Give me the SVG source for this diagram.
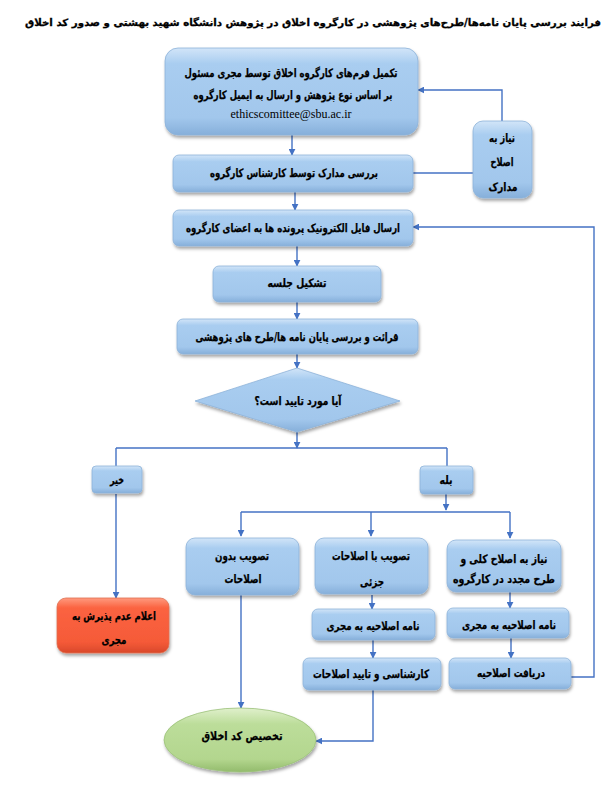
<svg xmlns="http://www.w3.org/2000/svg" width="614" height="806" viewBox="0 0 614 806">
<defs>
<linearGradient id="gb" x1="0" y1="0" x2="0" y2="1">
<stop offset="0" stop-color="#d2e5f8"/>
<stop offset="0.18" stop-color="#a9cdf0"/>
<stop offset="0.8" stop-color="#a2c7ec"/>
<stop offset="1" stop-color="#86afda"/>
</linearGradient>
<linearGradient id="gr" x1="0" y1="0" x2="0" y2="1">
<stop offset="0" stop-color="#ff9a7e"/>
<stop offset="0.18" stop-color="#fb6341"/>
<stop offset="0.8" stop-color="#f55a38"/>
<stop offset="1" stop-color="#d9482a"/>
</linearGradient>
<linearGradient id="gg" x1="0" y1="0" x2="0" y2="1">
<stop offset="0" stop-color="#e0f0cc"/>
<stop offset="0.25" stop-color="#bcdd9a"/>
<stop offset="0.8" stop-color="#b3d68e"/>
<stop offset="1" stop-color="#93bb6c"/>
</linearGradient>
<filter id="sh" x="-20%" y="-20%" width="140%" height="150%">
<feDropShadow dx="1" dy="2.5" stdDeviation="1.6" flood-color="#000" flood-opacity="0.35"/>
</filter>
<marker id="ar" viewBox="0 0 10 10" refX="9" refY="5" markerWidth="7" markerHeight="7" markerUnits="userSpaceOnUse" orient="auto">
<path d="M0,0 L10,5 L0,10 z" fill="#4472c4"/>
</marker>
</defs>
<style>
.b{fill:url(#gb);stroke:#8db2d9;stroke-width:0.8;filter:url(#sh)}
.r{fill:url(#gr);stroke:#e07050;stroke-width:0.8;filter:url(#sh)}
.g{fill:url(#gg);stroke:#9cc27a;stroke-width:0.8;filter:url(#sh)}
.t{font-family:"DejaVu Sans","Noto Sans",sans-serif;font-weight:bold;font-size:11.5px;fill:#000;stroke:#000;stroke-width:0.25;text-anchor:middle;direction:rtl}
.e{font-family:"Liberation Serif",serif;font-size:12px;fill:#000;text-anchor:middle}
.c{fill:none;stroke:#4472c4;stroke-width:1.4}
.ca{fill:none;stroke:#4472c4;stroke-width:1.4;marker-end:url(#ar)}
</style>
<text class="t" x="313" y="26" style="font-size:10px;stroke-width:0.3" textLength="576" lengthAdjust="spacingAndGlyphs">فرایند بررسی پایان نامه‌ها/طرح‌های پژوهشی در کارگروه اخلاق در پژوهش دانشگاه شهید بهشتی  و صدور کد اخلاق</text>

<g id="connectors">
<path class="ca" d="M292,135 V155"/>
<path class="ca" d="M502,121 V90 H418"/>
<path class="c" d="M413,173 H473"/>
<path class="ca" d="M295,192 V210"/>
<path class="ca" d="M297,246 V266"/>
<path class="ca" d="M297,302 V319"/>
<path class="ca" d="M297,354 V368"/>
<path class="ca" d="M297,432 V448"/>
<path class="c" d="M116,448 H447"/>
<path class="c" d="M116,448 V466"/>
<path class="c" d="M447,448 V466"/>
<path class="ca" d="M446,494 V510"/>
<path class="c" d="M241,512 H510"/>
<path class="ca" d="M241,512 V536"/>
<path class="ca" d="M371,512 V536"/>
<path class="ca" d="M510,512 V538"/>
<path class="ca" d="M372,595 V609"/>
<path class="ca" d="M510,592 V608"/>
<path class="ca" d="M373,640 V658"/>
<path class="ca" d="M511,638 V658"/>
<path class="ca" d="M571,677 H594 V227 H413"/>
<path class="ca" d="M116,494 V598"/>
<path class="ca" d="M241,595 V708"/>
<path class="ca" d="M373,690 V741 H316"/>
</g>

<g id="n1">
<rect class="b" x="165" y="48" width="253" height="87" rx="13"/>
<text class="t" x="291" y="77" textLength="213" lengthAdjust="spacingAndGlyphs">تکمیل فرم‌های کارگروه اخلاق توسط مجری مسئول</text>
<text class="t" x="293" y="99" textLength="199" lengthAdjust="spacingAndGlyphs">بر اساس نوع پژوهش و ارسال به ایمیل کارگروه</text>
<text class="e" x="291" y="118">ethicscomittee@sbu.ac.ir</text>
</g>
<g id="n2">
<rect class="b" x="173" y="155" width="240" height="37" rx="6"/>
<text class="t" x="294" y="177" textLength="168" lengthAdjust="spacingAndGlyphs">بررسی مدارک توسط کارشناس کارگروه</text>
</g>
<g id="n_side">
<rect class="b" x="473" y="121" width="59" height="77" rx="10"/>
<text class="t" x="502" y="142" textLength="26" lengthAdjust="spacingAndGlyphs">نیاز به</text>
<text class="t" x="502" y="166" textLength="23" lengthAdjust="spacingAndGlyphs">اصلاح</text>
<text class="t" x="503" y="191" textLength="29" lengthAdjust="spacingAndGlyphs">مدارک</text>
</g>
<g id="n3">
<rect class="b" x="173" y="210" width="240" height="36" rx="6"/>
<text class="t" x="293" y="232" textLength="214" lengthAdjust="spacingAndGlyphs">ارسال فایل الکترونیک پرونده ها به اعضای کارگروه</text>
</g>
<g id="n4">
<rect class="b" x="213" y="266" width="168" height="36" rx="6"/>
<text class="t" x="297" y="287" textLength="59" lengthAdjust="spacingAndGlyphs">تشکیل جلسه</text>
</g>
<g id="n5">
<rect class="b" x="177" y="319" width="241" height="35" rx="6"/>
<text class="t" x="297" y="341" textLength="203" lengthAdjust="spacingAndGlyphs">قرائت و بررسی پایان نامه ها/طرح های پژوهشی</text>
</g>
<g id="n_dec">
<polygon class="b" points="297,368 400,401 297,432 195,401"/>
<text class="t" x="298" y="405" textLength="87" lengthAdjust="spacingAndGlyphs">آیا مورد تایید است؟</text>
</g>
<g id="n_no">
<rect class="b" x="92" y="466" width="50" height="27" rx="4"/>
<text class="t" x="117" y="484" textLength="14" lengthAdjust="spacingAndGlyphs">خیر</text>
</g>
<g id="n_yes">
<rect class="b" x="420" y="466" width="53" height="28" rx="4"/>
<text class="t" x="446" y="484" textLength="13" lengthAdjust="spacingAndGlyphs">بله</text>
</g>
<g id="n_a">
<rect class="b" x="186" y="538" width="113" height="57" rx="9"/>
<text class="t" x="242" y="560" textLength="54" lengthAdjust="spacingAndGlyphs">تصویب بدون</text>
<text class="t" x="243" y="583" textLength="37" lengthAdjust="spacingAndGlyphs">اصلاحات</text>
</g>
<g id="n_b">
<rect class="b" x="315" y="538" width="113" height="56" rx="9"/>
<text class="t" x="371" y="560" textLength="78" lengthAdjust="spacingAndGlyphs">تصویب با اصلاحات</text>
<text class="t" x="372" y="586" textLength="24" lengthAdjust="spacingAndGlyphs">جزئی</text>
</g>
<g id="n_c">
<rect class="b" x="447" y="540" width="114" height="52" rx="9"/>
<text class="t" x="504" y="563" textLength="87" lengthAdjust="spacingAndGlyphs">نیاز به اصلاح کلی و</text>
<text class="t" x="504" y="583" textLength="102" lengthAdjust="spacingAndGlyphs">طرح مجدد در کارگروه</text>
</g>
<g id="n_b2">
<rect class="b" x="312" y="609" width="123" height="31" rx="6"/>
<text class="t" x="373" y="630" textLength="93" lengthAdjust="spacingAndGlyphs">نامه اصلاحیه به مجری</text>
</g>
<g id="n_c2">
<rect class="b" x="447" y="608" width="122" height="30" rx="6"/>
<text class="t" x="509" y="629" textLength="94" lengthAdjust="spacingAndGlyphs">نامه اصلاحیه به مجری</text>
</g>
<g id="n_b3">
<rect class="b" x="303" y="658" width="138" height="32" rx="6"/>
<text class="t" x="371" y="678" textLength="116" lengthAdjust="spacingAndGlyphs">کارشناسی و تایید اصلاحات</text>
</g>
<g id="n_c3">
<rect class="b" x="449" y="658" width="122" height="31" rx="6"/>
<text class="t" x="511" y="677" textLength="68" lengthAdjust="spacingAndGlyphs">دریافت اصلاحیه</text>
</g>
<g id="n_reject">
<rect class="r" x="57" y="598" width="112" height="55" rx="9"/>
<text class="t" x="114" y="620" textLength="84" lengthAdjust="spacingAndGlyphs">اعلام عدم پذیرش به</text>
<text class="t" x="114" y="644" textLength="25" lengthAdjust="spacingAndGlyphs">مجری</text>
</g>
<g id="n_end">
<ellipse class="g" cx="240" cy="740" rx="76" ry="32"/>
<text class="t" x="242" y="740" textLength="81" lengthAdjust="spacingAndGlyphs">تخصیص کد اخلاق</text>
</g>
</svg>
